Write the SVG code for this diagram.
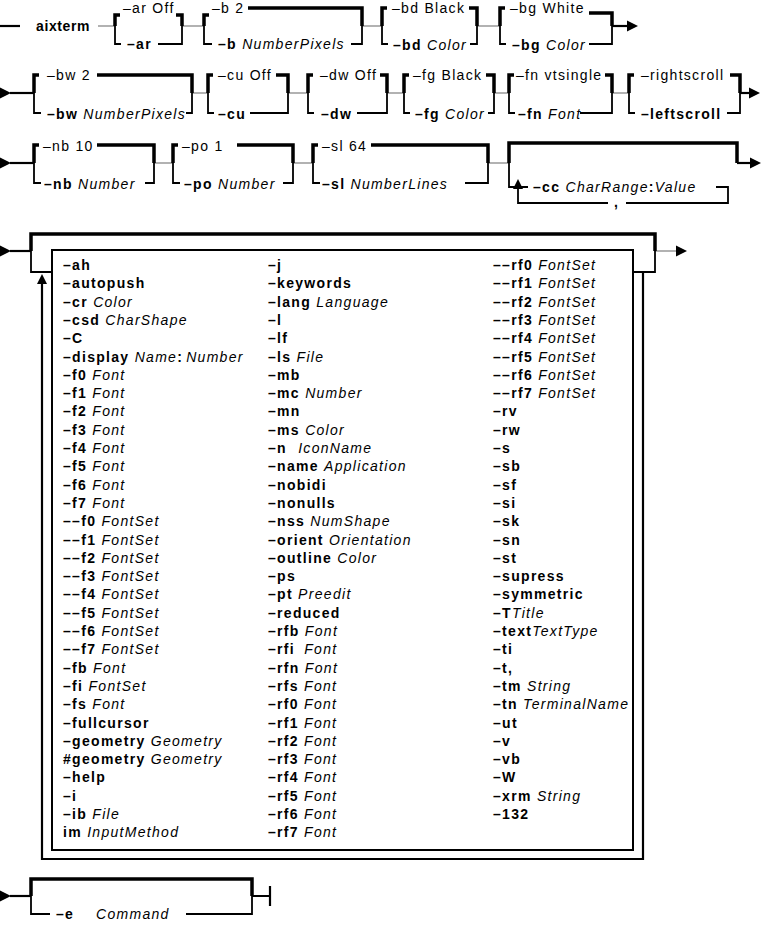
<svg xmlns="http://www.w3.org/2000/svg" xmlns:xlink="http://www.w3.org/1999/xlink" width="766" height="933" viewBox="0 0 766 933">
<style>
.k{stroke:#000;stroke-width:3.5;fill:none;stroke-linejoin:miter}
.n{stroke:#000;stroke-width:1.8;fill:none}
.g{stroke:#999;stroke-width:1.5;fill:none}
.m{stroke:#000;stroke-width:2.2;fill:none}
text{font-family:"Liberation Sans",Arial,Helvetica,sans-serif;font-size:14px;letter-spacing:1.3px;fill:#000}
.b{font-weight:bold}
.i{font-style:italic}
</style>
<defs>
<path id="ar" d="M0,-5.5 L11,0 L0,5.5 Z" fill="#000"/>
<path id="au" d="M-5,0 L0,-10 L5,0 Z" fill="#000"/>
</defs>
<rect width="766" height="933" fill="#fff"/>

<g id="connectors">
<path class="m" d="M0,26 H20"/>
<path class="g" d="M98,26 H115 M182,26 H204 M362,26 H382 M477,26 H500"/>
<path class="m" d="M612,26 H628"/><use xlink:href="#ar" x="627" y="26"/>
<use xlink:href="#ar" x="0" y="93"/><path class="m" d="M10,93 H34"/>
<path class="g" d="M192,93 H208 M288,93 H308 M387,93 H404 M494,93 H509 M612,93 H629"/>
<path class="m" d="M740,93 H750"/><use xlink:href="#ar" x="749" y="93"/>
<use xlink:href="#ar" x="0" y="163"/><path class="m" d="M10,163 H34"/>
<path class="g" d="M154,163 H173 M293,163 H313 M488,163 H509"/>
<path class="m" d="M737,163 H751"/><use xlink:href="#ar" x="750" y="163"/>
<use xlink:href="#ar" x="0" y="251"/><path class="m" d="M10,251 H31"/>
<path class="g" d="M655,251 H677"/><use xlink:href="#ar" x="676" y="251"/>
<use xlink:href="#ar" x="0" y="896"/><path class="m" d="M10,896 H31"/>
<path class="m" d="M252,896 H270 M270,886 V906"/>
</g>

<g id="aixterm"><text class="b" x="36" y="31" style="letter-spacing:0.6px">aixterm</text></g>

<g id="opt-ar">
<path class="k" d="M120,15 H115 V26 M176,15 H182 V26"/>
<path class="n" d="M115,26 V44 H121 M158,44 H182 V26"/>
<text x="123" y="13">–ar Off</text>
<text class="b" x="127" y="49">–ar</text>
</g>
<g id="opt-b">
<path class="k" d="M209,15 H204 V26 M248,8 H362 V26"/>
<path class="n" d="M204,26 V44 H212 M351,44 H362 V26"/>
<text x="212" y="13">–b 2</text>
<text x="218" y="49"><tspan class="b">–b</tspan> <tspan class="i">NumberPixels</tspan></text>
</g>
<g id="opt-bd">
<path class="k" d="M387,8 H382 V26 M469,8 H477 V26"/>
<path class="n" d="M382,26 V44 H388 M470,44 H477 V26"/>
<text x="392" y="13">–bd Black</text>
<text x="393" y="50"><tspan class="b">–bd</tspan> <tspan class="i">Color</tspan></text>
</g>
<g id="opt-bg">
<path class="k" d="M505,8 H500 V26 M589,13 H612 V26"/>
<path class="n" d="M500,26 V44 H506 M589,44 H612 V26"/>
<text x="510" y="13">–bg White</text>
<text x="512" y="50"><tspan class="b">–bg</tspan> <tspan class="i">Color</tspan></text>
</g>

<g id="opt-bw">
<path class="k" d="M39,75 H34 V93 M97,75 H192 V93"/>
<path class="n" d="M34,93 V113 H41 M186,113 H192 V93"/>
<text x="47" y="80">–bw 2</text>
<text x="47" y="119"><tspan class="b">–bw</tspan> <tspan class="i">NumberPixels</tspan></text>
</g>
<g id="opt-cu">
<path class="k" d="M213,75 H208 V93 M276,75 H288 V93"/>
<path class="n" d="M208,93 V113 H214 M250,113 H288 V93"/>
<text x="218" y="80">–cu Off</text>
<text class="b" x="218" y="119">–cu</text>
</g>
<g id="opt-dw">
<path class="k" d="M313,75 H308 V93 M380,75 H387 V93"/>
<path class="n" d="M308,93 V113 H314 M357,113 H387 V93"/>
<text x="320" y="80">–dw Off</text>
<text class="b" x="321" y="119">–dw</text>
</g>
<g id="opt-fg">
<path class="k" d="M409,75 H404 V93 M486,75 H494 V93"/>
<path class="n" d="M404,93 V113 H410 M488,113 H494 V93"/>
<text x="413" y="80">–fg Black</text>
<text x="415" y="119"><tspan class="b">–fg</tspan> <tspan class="i">Color</tspan></text>
</g>
<g id="opt-fn">
<path class="k" d="M514,75 H509 V93 M605,75 H612 V93"/>
<path class="n" d="M509,93 V113 H515 M580,113 H612 V93"/>
<text x="516" y="80">–fn vtsingle</text>
<text x="518" y="119"><tspan class="b">–fn</tspan> <tspan class="i">Font</tspan></text>
</g>
<g id="opt-scroll">
<path class="k" d="M634,75 H629 V93 M730,75 H740 V93"/>
<path class="n" d="M629,93 V113 H635 M727,113 H740 V93"/>
<text x="641" y="80">–rightscroll</text>
<text class="b" x="641" y="119">–leftscroll</text>
</g>

<g id="opt-nb">
<path class="k" d="M39,145 H34 V163 M97,145 H154 V163"/>
<path class="n" d="M34,163 V183 H41 M145,183 H154 V163"/>
<text x="43" y="151">–nb 10</text>
<text x="44" y="189"><tspan class="b">–nb</tspan> <tspan class="i">Number</tspan></text>
</g>
<g id="opt-po">
<path class="k" d="M178,145 H173 V163 M237,145 H293 V163"/>
<path class="n" d="M173,163 V183 H180 M283,183 H293 V163"/>
<text x="182" y="151">–po 1</text>
<text x="184" y="189"><tspan class="b">–po</tspan> <tspan class="i">Number</tspan></text>
</g>
<g id="opt-sl">
<path class="k" d="M318,145 H313 V163 M371,145 H488 V163"/>
<path class="n" d="M313,163 V183 H320 M465,183 H488 V163"/>
<text x="322" y="151">–sl 64</text>
<text x="322" y="189"><tspan class="b">–sl</tspan> <tspan class="i">NumberLines</tspan></text>
</g>
<g id="opt-cc">
<path class="k" d="M509,163 V143 H737 V163"/>
<path class="n" d="M509,163 V187 H528 M716,187 H728 V203 H626 M608,203 H518 V188"/>
<use xlink:href="#au" x="518" y="189"/>
<text x="533" y="192"><tspan class="b">–cc</tspan> <tspan class="i">CharRange</tspan><tspan class="b">:</tspan><tspan class="i">Value</tspan></text>
<text class="b" x="614" y="207">,</text>
</g>

<g id="options-list">
<path class="k" d="M31,251 V234 H655 V251"/>
<path class="n" d="M31,251 V272 H52 M655,251 V272 H633"/>
<rect x="52" y="250" width="581" height="600" fill="none" stroke="#000" stroke-width="2"/>
<path class="m" d="M42,283 V859 H643 V272"/>
<use xlink:href="#au" x="42" y="284"/>
<g id="col1">
<text x="63" y="270" class="b">–ah</text>
<text x="63" y="288.3" class="b">–autopush</text>
<text x="63" y="306.6"><tspan class="b">–cr</tspan> <tspan class="i">Color</tspan></text>
<text x="63" y="324.9"><tspan class="b">–csd</tspan> <tspan class="i">CharShape</tspan></text>
<text x="63" y="343.2" class="b">–C</text>
<text x="63" y="361.5"><tspan class="b">–display</tspan> <tspan class="i">Name</tspan><tspan class="b">:</tspan><tspan class="i" dx="3">Number</tspan></text>
<text x="63" y="379.8"><tspan class="b">–f0</tspan> <tspan class="i">Font</tspan></text>
<text x="63" y="398.1"><tspan class="b">–f1</tspan> <tspan class="i">Font</tspan></text>
<text x="63" y="416.4"><tspan class="b">–f2</tspan> <tspan class="i">Font</tspan></text>
<text x="63" y="434.7"><tspan class="b">–f3</tspan> <tspan class="i">Font</tspan></text>
<text x="63" y="453"><tspan class="b">–f4</tspan> <tspan class="i">Font</tspan></text>
<text x="63" y="471.3"><tspan class="b">–f5</tspan> <tspan class="i">Font</tspan></text>
<text x="63" y="489.6"><tspan class="b">–f6</tspan> <tspan class="i">Font</tspan></text>
<text x="63" y="507.9"><tspan class="b">–f7</tspan> <tspan class="i">Font</tspan></text>
<text x="63" y="526.2"><tspan class="b">––f0</tspan> <tspan class="i">FontSet</tspan></text>
<text x="63" y="544.5"><tspan class="b">––f1</tspan> <tspan class="i">FontSet</tspan></text>
<text x="63" y="562.8"><tspan class="b">––f2</tspan> <tspan class="i">FontSet</tspan></text>
<text x="63" y="581.1"><tspan class="b">––f3</tspan> <tspan class="i">FontSet</tspan></text>
<text x="63" y="599.4"><tspan class="b">––f4</tspan> <tspan class="i">FontSet</tspan></text>
<text x="63" y="617.7"><tspan class="b">––f5</tspan> <tspan class="i">FontSet</tspan></text>
<text x="63" y="636"><tspan class="b">––f6</tspan> <tspan class="i">FontSet</tspan></text>
<text x="63" y="654.3"><tspan class="b">––f7</tspan> <tspan class="i">FontSet</tspan></text>
<text x="63" y="672.6"><tspan class="b">–fb</tspan> <tspan class="i">Font</tspan></text>
<text x="63" y="690.9"><tspan class="b">–fi</tspan> <tspan class="i">FontSet</tspan></text>
<text x="63" y="709.2"><tspan class="b">–fs</tspan> <tspan class="i">Font</tspan></text>
<text x="63" y="727.5" class="b">–fullcursor</text>
<text x="63" y="745.8"><tspan class="b">–geometry</tspan> <tspan class="i">Geometry</tspan></text>
<text x="63" y="764.1"><tspan class="b">#geometry</tspan> <tspan class="i">Geometry</tspan></text>
<text x="63" y="782.4" class="b">–help</text>
<text x="63" y="800.7" class="b">–i</text>
<text x="63" y="819"><tspan class="b">–ib</tspan> <tspan class="i">File</tspan></text>
<text x="63" y="837.3"><tspan class="b">im</tspan> <tspan class="i">InputMethod</tspan></text>
</g>
<g id="col2">
<text x="268" y="270" class="b">–j</text>
<text x="268" y="288.3" class="b">–keywords</text>
<text x="268" y="306.6"><tspan class="b">–lang</tspan> <tspan class="i">Language</tspan></text>
<text x="268" y="324.9" class="b">–l</text>
<text x="268" y="343.2" class="b">–lf</text>
<text x="268" y="361.5"><tspan class="b">–ls</tspan> <tspan class="i">File</tspan></text>
<text x="268" y="379.8" class="b">–mb</text>
<text x="268" y="398.1"><tspan class="b">–mc</tspan> <tspan class="i">Number</tspan></text>
<text x="268" y="416.4" class="b">–mn</text>
<text x="268" y="434.7"><tspan class="b">–ms</tspan> <tspan class="i">Color</tspan></text>
<text x="268" y="453"><tspan class="b">–n</tspan> <tspan class="i" dx="6">IconName</tspan></text>
<text x="268" y="471.3"><tspan class="b">–name</tspan> <tspan class="i">Application</tspan></text>
<text x="268" y="489.6" class="b">–nobidi</text>
<text x="268" y="507.9" class="b">–nonulls</text>
<text x="268" y="526.2"><tspan class="b">–nss</tspan> <tspan class="i">NumShape</tspan></text>
<text x="268" y="544.5"><tspan class="b">–orient</tspan> <tspan class="i">Orientation</tspan></text>
<text x="268" y="562.8"><tspan class="b">–outline</tspan> <tspan class="i">Color</tspan></text>
<text x="268" y="581.1" class="b">–ps</text>
<text x="268" y="599.4"><tspan class="b">–pt</tspan> <tspan class="i">Preedit</tspan></text>
<text x="268" y="617.7" class="b">–reduced</text>
<text x="268" y="636"><tspan class="b">–rfb</tspan> <tspan class="i">Font</tspan></text>
<text x="268" y="654.3"><tspan class="b">–rfi</tspan> <tspan class="i" dx="4">Font</tspan></text>
<text x="268" y="672.6"><tspan class="b">–rfn</tspan> <tspan class="i">Font</tspan></text>
<text x="268" y="690.9"><tspan class="b">–rfs</tspan> <tspan class="i">Font</tspan></text>
<text x="268" y="709.2"><tspan class="b">–rf0</tspan> <tspan class="i">Font</tspan></text>
<text x="268" y="727.5"><tspan class="b">–rf1</tspan> <tspan class="i">Font</tspan></text>
<text x="268" y="745.8"><tspan class="b">–rf2</tspan> <tspan class="i">Font</tspan></text>
<text x="268" y="764.1"><tspan class="b">–rf3</tspan> <tspan class="i">Font</tspan></text>
<text x="268" y="782.4"><tspan class="b">–rf4</tspan> <tspan class="i">Font</tspan></text>
<text x="268" y="800.7"><tspan class="b">–rf5</tspan> <tspan class="i">Font</tspan></text>
<text x="268" y="819"><tspan class="b">–rf6</tspan> <tspan class="i">Font</tspan></text>
<text x="268" y="837.3"><tspan class="b">–rf7</tspan> <tspan class="i">Font</tspan></text>
</g>
<g id="col3">
<text x="493" y="270"><tspan class="b">––rf0</tspan> <tspan class="i">FontSet</tspan></text>
<text x="493" y="288.3"><tspan class="b">––rf1</tspan> <tspan class="i">FontSet</tspan></text>
<text x="493" y="306.6"><tspan class="b">––rf2</tspan> <tspan class="i">FontSet</tspan></text>
<text x="493" y="324.9"><tspan class="b">––rf3</tspan> <tspan class="i">FontSet</tspan></text>
<text x="493" y="343.2"><tspan class="b">––rf4</tspan> <tspan class="i">FontSet</tspan></text>
<text x="493" y="361.5"><tspan class="b">––rf5</tspan> <tspan class="i">FontSet</tspan></text>
<text x="493" y="379.8"><tspan class="b">––rf6</tspan> <tspan class="i">FontSet</tspan></text>
<text x="493" y="398.1"><tspan class="b">––rf7</tspan> <tspan class="i">FontSet</tspan></text>
<text x="493" y="416.4" class="b">–rv</text>
<text x="493" y="434.7" class="b">–rw</text>
<text x="493" y="453" class="b">–s</text>
<text x="493" y="471.3" class="b">–sb</text>
<text x="493" y="489.6" class="b">–sf</text>
<text x="493" y="507.9" class="b">–si</text>
<text x="493" y="526.2" class="b">–sk</text>
<text x="493" y="544.5" class="b">–sn</text>
<text x="493" y="562.8" class="b">–st</text>
<text x="493" y="581.1" class="b">–supress</text>
<text x="493" y="599.4" class="b">–symmetric</text>
<text x="493" y="617.7"><tspan class="b">–T</tspan><tspan class="i">Title</tspan></text>
<text x="493" y="636"><tspan class="b">–text</tspan><tspan class="i">TextType</tspan></text>
<text x="493" y="654.3" class="b">–ti</text>
<text x="493" y="672.6" class="b">–t,</text>
<text x="493" y="690.9"><tspan class="b">–tm</tspan> <tspan class="i">String</tspan></text>
<text x="493" y="709.2"><tspan class="b">–tn</tspan> <tspan class="i">TerminalName</tspan></text>
<text x="493" y="727.5" class="b">–ut</text>
<text x="493" y="745.8" class="b">–v</text>
<text x="493" y="764.1" class="b">–vb</text>
<text x="493" y="782.4" class="b">–W</text>
<text x="493" y="800.7"><tspan class="b">–xrm</tspan> <tspan class="i">String</tspan></text>
<text x="493" y="819" class="b">–132</text>
</g>
</g>

<g id="opt-e">
<path class="k" d="M31,896 V879 H252 V896"/>
<path class="n" d="M31,896 V914 H50 M186,914 H252 V896"/>
<text class="b" x="56" y="919">–e</text>
<text class="i" x="96" y="919">Command</text>
</g>
</svg>
